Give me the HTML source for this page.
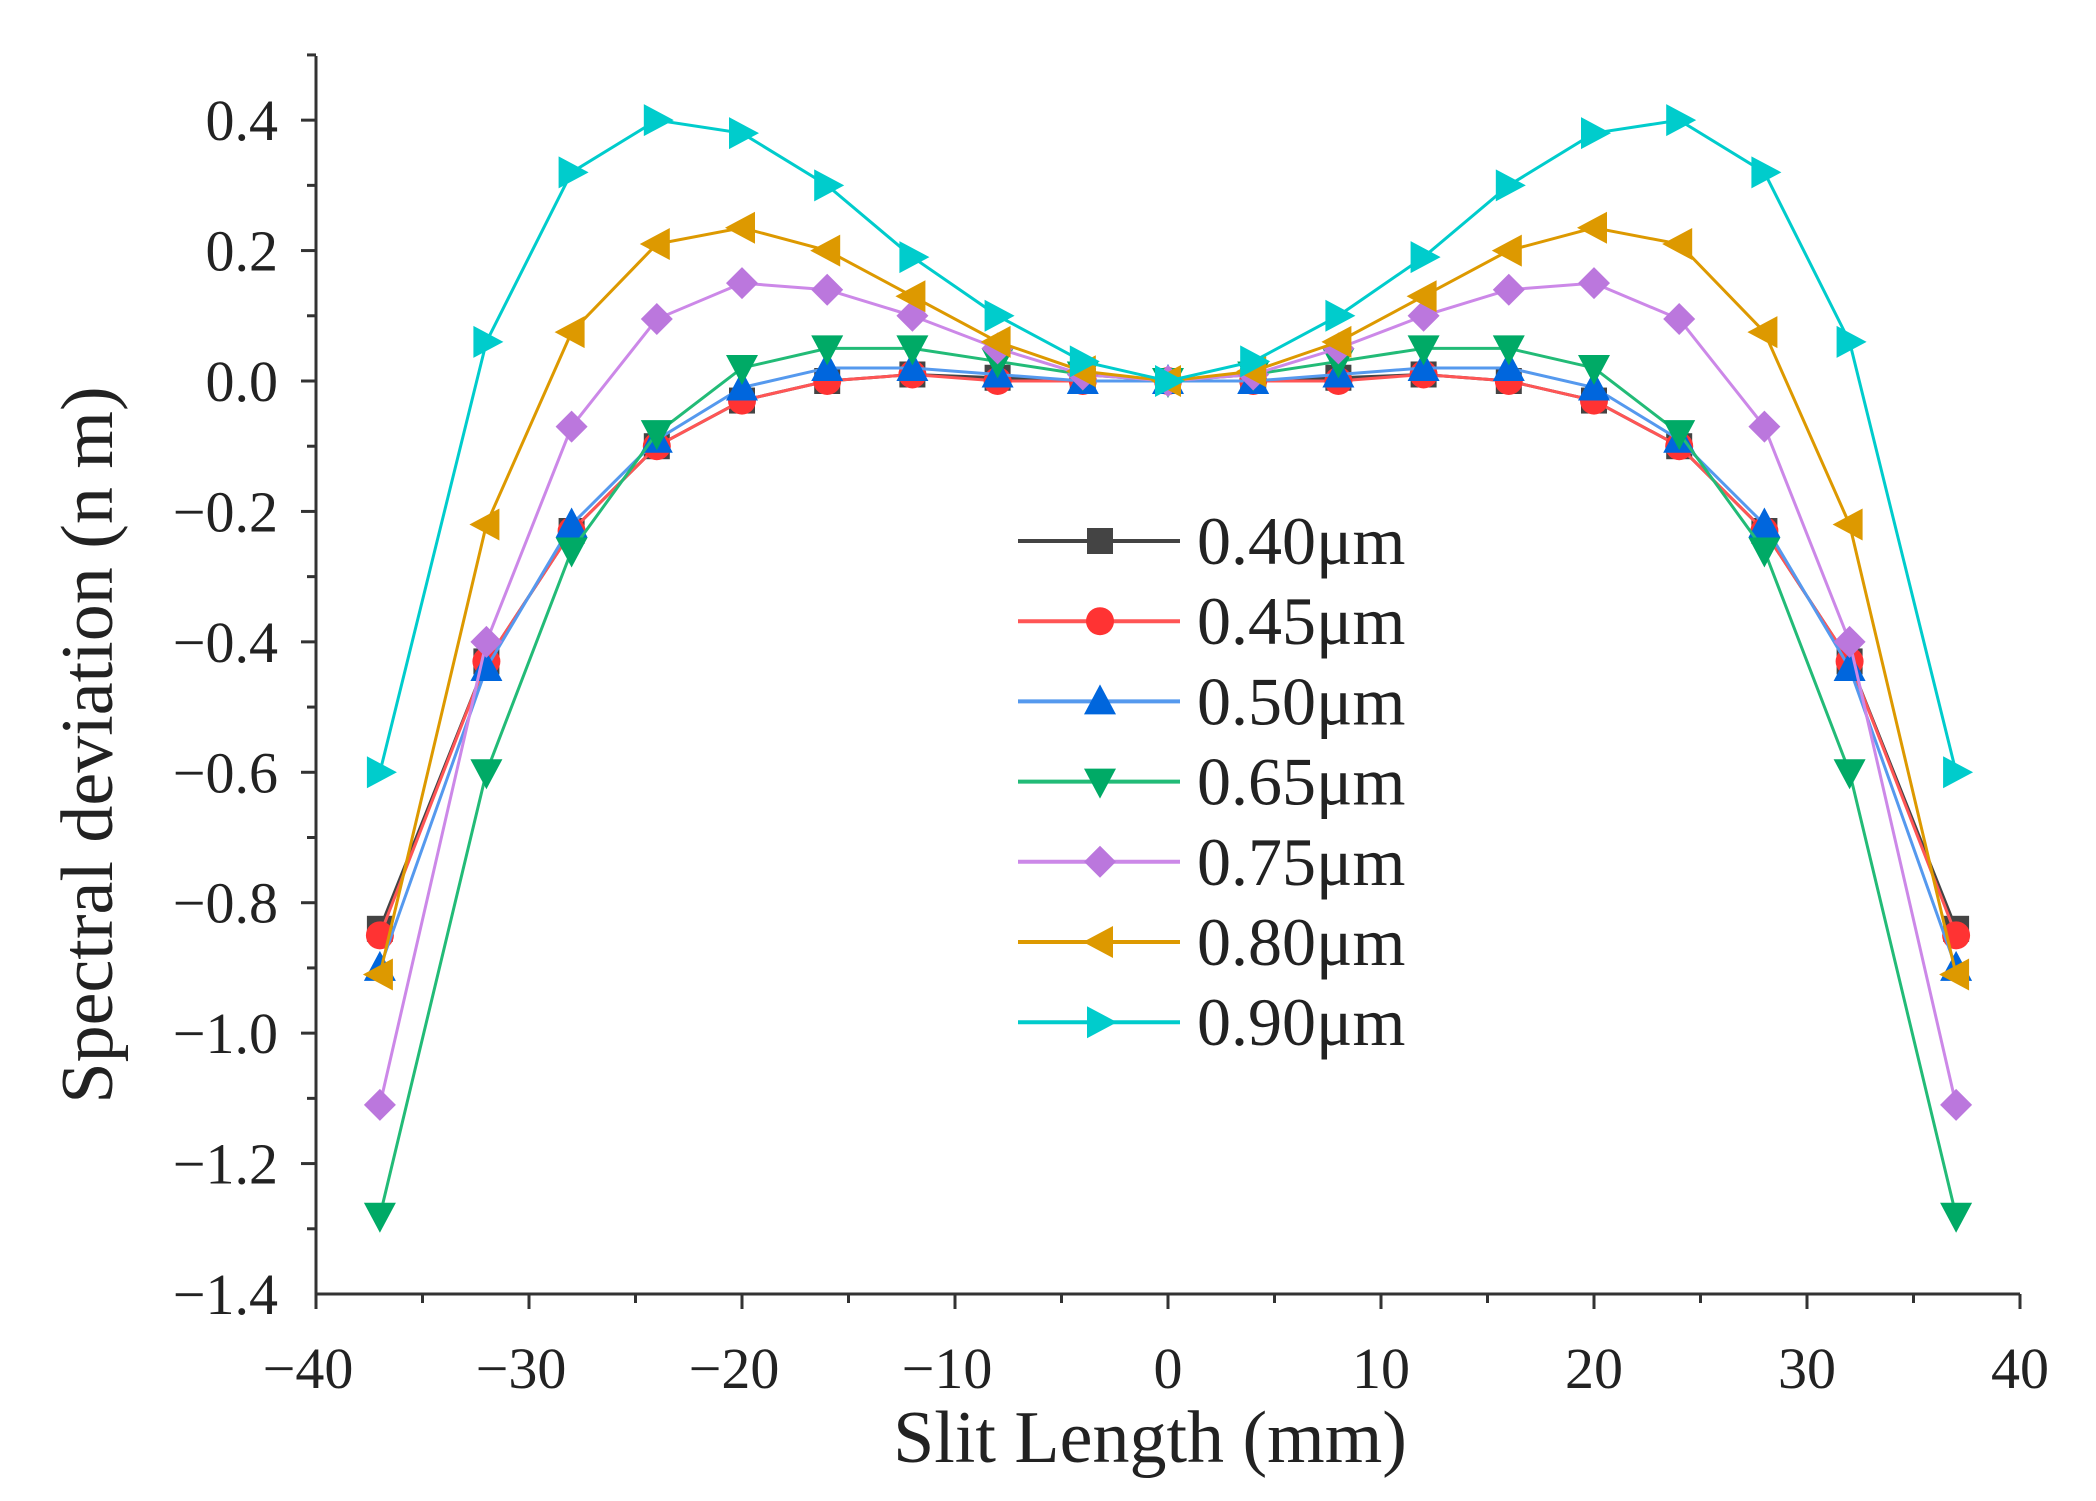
<!DOCTYPE html>
<html><head><meta charset="utf-8"><style>
html,body{margin:0;padding:0;background:#fff}
svg{display:block}
text{font-family:"Liberation Serif",serif;fill:#222}
</style></head><body>
<svg id="chart" width="2096" height="1501" viewBox="0 0 2096 1501" xmlns="http://www.w3.org/2000/svg">
<g id="axes"></g><g id="series"></g><g id="legend"></g>
<text x="1150" y="1462" font-size="74" text-anchor="middle">Slit Length (mm)</text>
<text x="0" y="0" font-size="74" text-anchor="middle" transform="translate(112,745) rotate(-90)">Spectral deviation (n m)</text>
</svg>
<script>
const xs = [-37,-32,-28,-24,-20,-16,-12,-8,-4,0,4,8,12,16,20,24,28,32,37];
const labels = ["0.40μm","0.45μm","0.50μm","0.65μm","0.75μm","0.80μm","0.90μm"];
const s040 = [-0.84,-0.43,-0.23,-0.10,-0.03,0.00,0.01,0.005,0.00,0,0.00,0.005,0.01,0.00,-0.03,-0.10,-0.23,-0.43,-0.84];
const s045 = [-0.85,-0.43,-0.23,-0.10,-0.03,0.00,0.01,0.00,0.00,0,0.00,0.00,0.01,0.00,-0.03,-0.10,-0.23,-0.43,-0.85];
const s050 = [-0.90,-0.44,-0.22,-0.09,-0.01,0.02,0.02,0.01,0.00,0,0.00,0.01,0.02,0.02,-0.01,-0.09,-0.22,-0.44,-0.90];
const s065 = [-1.28,-0.60,-0.26,-0.08,0.02,0.05,0.05,0.03,0.01,0,0.01,0.03,0.05,0.05,0.02,-0.08,-0.26,-0.60,-1.28];
const s075 = [-1.11,-0.40,-0.07,0.095,0.15,0.14,0.10,0.05,0.01,0,0.01,0.05,0.10,0.14,0.15,0.095,-0.07,-0.40,-1.11];
const s080 = [-0.91,-0.22,0.075,0.21,0.235,0.20,0.13,0.06,0.015,0,0.015,0.06,0.13,0.20,0.235,0.21,0.075,-0.22,-0.91];
const s090 = [-0.60,0.06,0.32,0.40,0.38,0.30,0.19,0.10,0.03,0,0.03,0.10,0.19,0.30,0.38,0.40,0.32,0.06,-0.60];
const xTicks = [-40,-30,-20,-10,0,10,20,30,40];
const yTicks = [0.4,0.2,0.0,-0.2,-0.4,-0.6,-0.8,-1.0,-1.2,-1.4];

const NS="http://www.w3.org/2000/svg";
const X = v => 1168 + v*(2020-1168)/40;
const Y = v => 381 - v*(381-1294)/-1.4;
function mk(tag, attrs, parent){const e=document.createElementNS(NS,tag);for(const k in attrs)e.setAttribute(k,attrs[k]);parent.appendChild(e);return e;}
const axes=document.getElementById('axes');
const ax=mk('path',{d:`M${X(-40)} 56 V${Y(-1.4)} H${X(40)}`,fill:'none',stroke:'#333','stroke-width':3},axes);


for(let v=-40; v<=40; v+=5){
  const major=v%10===0;
  const t=mk('line',{x1:X(v),x2:X(v),y1:Y(-1.4),y2:Y(-1.4)+(major?15:9),stroke:'#333','stroke-width':3},axes);
  
  
}
xTicks.forEach(v=>{
  const t=mk('text',{x:X(v)-(v<0?8:0),y:1388,'font-size':58,'text-anchor':'middle'},axes);
  t.textContent=(v<0?'−':'')+Math.abs(v);
  
  
});
for(let i=0;i<=18;i++){
  const v=0.5-i*0.1;
  const major=i%2===1;
  const t=mk('line',{x1:X(-40),x2:X(-40)-(major?15:9),y1:Y(v),y2:Y(v),stroke:'#333','stroke-width':3},axes);
  
  
}
yTicks.forEach(v=>{
  const t=mk('text',{x:278,y:Y(v)+20,'font-size':58,'text-anchor':'end'},axes);
  t.textContent=(v<0?'−':'')+Math.abs(v).toFixed(1);
  
  
});
const data=[s040,s045,s050,s065,s075,s080,s090];
const lineCol=['#444','#ff5555','#5599ee','#22bb77','#cc88e8','#dd9900','#00cccc'];
const markCol=['#444','#ff3333','#0066dd','#00aa66','#bb77dd','#dd9900','#00cccc'];
const shapes=['square','circle','up','down','diamond','left','right'];
function marker(shape,cx,cy,col,parent){
  const r=15;let e;
  if(shape==='square') e=mk('rect',{x:cx-r+2,y:cy-r+2,width:2*r-4,height:2*r-4,fill:col},parent);
  else if(shape==='circle') e=mk('circle',{cx,cy,r:r-1,fill:col},parent);
  else { let p;
    if(shape==='up') p=[[cx,cy-r-2],[cx+r+1,cy+r-2],[cx-r-1,cy+r-2]];
    if(shape==='down') p=[[cx,cy+r+2],[cx+r+1,cy-r+2],[cx-r-1,cy-r+2]];
    if(shape==='diamond') p=[[cx,cy-r-1],[cx+r+1,cy],[cx,cy+r+1],[cx-r-1,cy]];
    if(shape==='left') p=[[cx-r-2,cy],[cx+r-2,cy-r-1],[cx+r-2,cy+r+1]];
    if(shape==='right') p=[[cx+r+2,cy],[cx-r+2,cy-r-1],[cx-r+2,cy+r+1]];
    e=mk('polygon',{points:p.map(q=>q.join(',')).join(' '),fill:col},parent);
  }
  return e;
}
const sg=document.getElementById('series');
data.forEach((arr,si)=>{
  const g=mk('g',{},sg);
  
  
  const pl=mk('polyline',{points:arr.map((v,i)=>X(xs[i])+','+Y(v)).join(' '),fill:'none',stroke:lineCol[si],'stroke-width':3},g);
  
  
  arr.forEach((v,i)=>{
    const m=marker(shapes[si],X(xs[i]),Y(v),markCol[si],g);
    
    
  });
});
const lg=document.getElementById('legend');
labels.forEach((lab,i)=>{
  const y=541+i*80.2;
  const g=mk('g',{},lg);
  
  
  mk('line',{x1:1018,x2:1180,y1:y,y2:y,stroke:lineCol[i],'stroke-width':4},g);
  marker(shapes[i],1100,y,markCol[i],g);
  const t=mk('text',{x:1197,y:y+23,'font-size':68},g);
  t.textContent=lab;
});
</script>
</body></html>
